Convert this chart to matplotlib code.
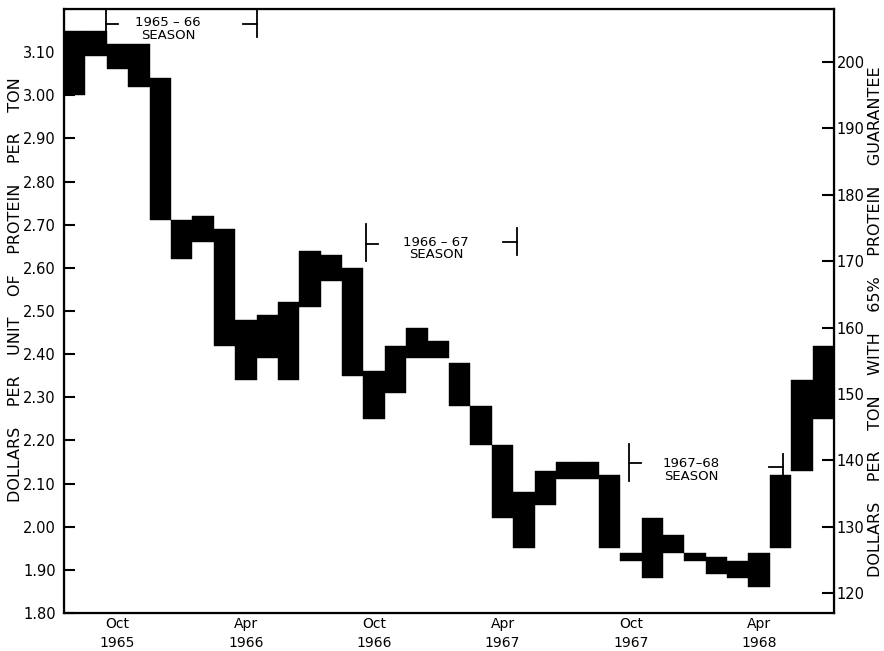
import numpy as np
import matplotlib
matplotlib.use("Agg")
import matplotlib.pyplot as plt

# Monthly price range of fish meal, Aug 1965 - Jul 1968
# months counted from Aug 1965 (index 0)
high = [3.15, 3.15, 3.12, 3.12, 3.04, 2.71, 2.72, 2.69, 2.48, 2.49, 2.52, 2.64,
        2.63, 2.60, 2.36, 2.42, 2.46, 2.43, 2.38, 2.28, 2.19, 2.08, 2.13, 2.15,
        2.15, 2.12, 1.94, 2.02, 1.98, 1.94, 1.93, 1.92, 1.94, 2.12, 2.34, 2.42]
low = [3.00, 3.09, 3.06, 3.02, 2.71, 2.62, 2.66, 2.42, 2.34, 2.39, 2.34, 2.51,
       2.57, 2.35, 2.25, 2.31, 2.39, 2.39, 2.28, 2.19, 2.02, 1.95, 2.05, 2.11,
       2.11, 1.95, 1.92, 1.88, 1.94, 1.92, 1.89, 1.88, 1.86, 1.95, 2.13, 2.25]

xtick_pos = [2, 8, 14, 20, 26, 32]
xtick_labels = ["Oct\n1965", "Apr\n1966", "Oct\n1966", "Apr\n1967", "Oct\n1967", "Apr\n1968"]
left_ticks = [1.80, 1.90, 2.00, 2.10, 2.20, 2.30, 2.40, 2.50, 2.60, 2.70, 2.80, 2.90, 3.00, 3.10]
right_ticks = [120, 130, 140, 150, 160, 170, 180, 190, 200]
protein_factor = 65  # 65% protein guarantee

# season labels: (text, start month, end month, text x, text y)
seasons = [
    ("1965 – 66\nSEASON", 1.46, 8.52, 4.36, 3.154),
    ("1966 – 67\nSEASON", 13.62, 20.68, 16.89, 2.645),
    ("1967–68\nSEASON", 25.91, 33.11, 28.81, 2.131),
]
bracket_y = [3.166, 2.656, 2.147]
bracket_y_right = [3.166, 2.661, 2.138]

plt.rcParams['font.family'] = ['DejaVu Sans']


def draw_bracket(ax, x0, x1, y0, y1):
    h = 0.045
    ax.plot([x0, x0], [y0 - h * 0.9, min(y0 + h, 3.2)], color="black", lw=1.3)
    ax.plot([x0, x0 + 0.55], [y0, y0], color="black", lw=1.3)
    ax.plot([x1, x1], [y1 - h * 0.7, min(y1 + h * 0.7, 3.2)], color="black", lw=1.3)
    ax.plot([x1 - 0.65, x1], [y1, y1], color="black", lw=1.3)


def main():
    fig = plt.figure(figsize=(8.84, 6.51), dpi=100)
    ax = fig.add_axes([64 / 884, 38 / 651, 770 / 884, 604 / 651])
    months = np.arange(len(high))
    hi = np.array(high)
    lo = np.array(low)
    ax.bar(months, hi - lo, bottom=lo, width=1.0, color="black", edgecolor="black", lw=0.3)

    ax.set_xlim(-0.5, len(high) - 0.5)
    ax.set_ylim(1.80, 3.20)
    ax.set_yticks(left_ticks)
    ax.set_yticklabels(["%.2f" % v for v in left_ticks])
    ax.set_xticks(xtick_pos)
    ax.set_xticklabels(xtick_labels, linespacing=1.45)
    ax.tick_params(axis="x", length=0, pad=3, labelsize=10)
    ax.tick_params(axis="y", direction="in", length=8, width=1.5, pad=6, labelsize=10.5)
    for s in ax.spines.values():
        s.set_linewidth(1.6)

    ax2 = ax.twinx()
    ax2.set_ylim(1.80 * protein_factor, 3.20 * protein_factor)
    ax2.set_yticks(right_ticks)
    ax2.tick_params(axis="y", direction="in", length=9, width=1.5, pad=2, labelsize=10.5)

    for i, (txt, x0, x1, tx, ty) in enumerate(seasons):
        draw_bracket(ax, x0, x1, bracket_y[i], bracket_y_right[i])
        ax.text(tx, ty, txt, ha="center", va="center", fontsize=9.5, linespacing=0.95)

    fig.text(16 / 884, 1 - 290 / 651,
             "DOLLARS    PER    UNIT    OF    PROTEIN    PER    TON",
             rotation=90, ha="center", va="center", fontsize=11.5)
    fig.text(876 / 884, 1 - 322 / 651,
             "DOLLARS    PER    TON    WITH    65%    PROTEIN    GUARANTEE",
             rotation=90, ha="center", va="center", fontsize=11.5)

    fig.savefig("out.png", dpi=100)


if __name__ == "__main__":
    main()
